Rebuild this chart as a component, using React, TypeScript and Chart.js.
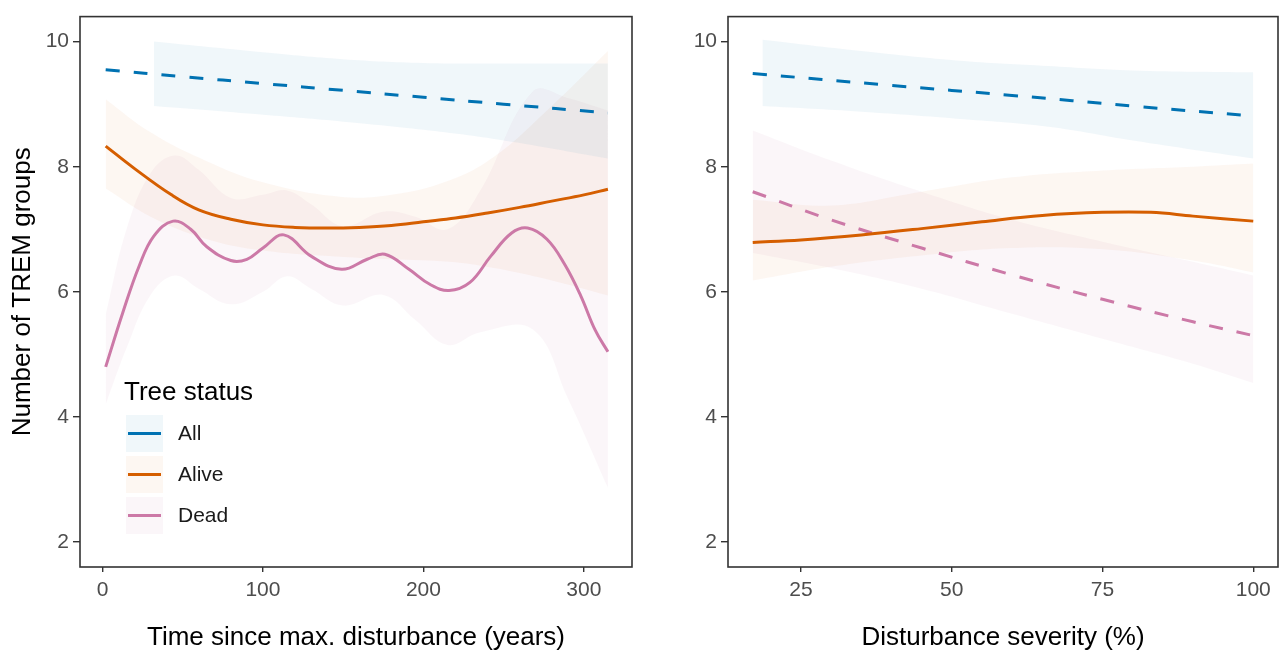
import React, { useEffect, useRef } from "react";
import { Chart, registerables } from "chart.js";

Chart.register(...registerables);

const FONT = "'Liberation Sans', Arial, sans-serif";
const BLUE = "#0072B2";
const ORANGE = "#D55E00";
const PINK = "#CC79A7";
const BLUE_FILL = "rgba(0,114,178,0.06)";
const ORANGE_FILL = "rgba(213,94,0,0.05)";
const PINK_FILL = "rgba(204,121,167,0.07)";

// ---------- Left panel: time since max. disturbance ----------
const timeAllX = [2, 50, 100, 150, 200, 250, 315];
const timeAllY = [9.55, 9.44, 9.33, 9.22, 9.11, 9.0, 8.86];
const timeAllBandX = [32, 100, 150, 200, 250, 315];
const timeAllUpper = [10.0, 9.83, 9.72, 9.66, 9.65, 9.65];
const timeAllLower = [8.97, 8.83, 8.72, 8.59, 8.42, 8.13];

const timeAliveX = [2, 20, 43, 60, 80, 100, 120, 140, 160, 180, 200, 220, 240, 260, 280, 300, 315];
const timeAliveY = [8.33, 7.97, 7.55, 7.31, 7.16, 7.07, 7.03, 7.02, 7.03, 7.06, 7.12, 7.18, 7.26, 7.35, 7.45, 7.55, 7.64];
const timeAliveBandX = [2, 30, 64, 100, 148, 180, 216, 244, 277, 315];
const timeAliveUpper = [9.08, 8.55, 8.1, 7.75, 7.52, 7.55, 7.78, 8.16, 8.9, 9.85];
const timeAliveLower = [7.65, 7.2, 6.85, 6.66, 6.56, 6.52, 6.48, 6.38, 6.2, 5.94];

const timeDeadX = [2, 12.7, 23, 32, 44, 55, 65, 80, 90, 100, 113, 130, 149, 165, 176, 191, 204, 216, 229, 242, 255, 265, 277, 288, 298, 307, 315];
const timeDeadY = [4.8, 5.67, 6.42, 6.89, 7.13, 7.0, 6.72, 6.5, 6.52, 6.7, 6.91, 6.57, 6.36, 6.52, 6.6, 6.36, 6.12, 6.02, 6.15, 6.57, 6.94, 7.02, 6.84, 6.44, 5.94, 5.39, 5.04];
const timeDeadBandX = [2, 15, 30, 45, 60, 80, 100, 115, 130, 150, 175, 195, 215, 235, 268, 290, 315];
const timeDeadUpper = [5.63, 7.0, 7.9, 8.18, 7.95, 7.5, 7.55, 7.62, 7.4, 7.05, 7.28, 7.2, 7.0, 7.6, 9.2, 9.1, 8.9];
const timeDeadLower = [4.2, 5.1, 5.95, 6.26, 6.05, 5.8, 6.0, 6.25, 6.05, 5.78, 5.95, 5.55, 5.15, 5.35, 5.4, 4.3, 2.87];

// ---------- Right panel: disturbance severity ----------
const sevAllX = [17, 40, 60, 80, 100];
const sevAllY = [9.49, 9.3, 9.14, 8.97, 8.81];
const sevAllBandX = [18.6, 35, 52, 66, 80, 100];
const sevAllUpper = [10.03, 9.85, 9.69, 9.61, 9.54, 9.51];
const sevAllLower = [8.97, 8.88, 8.76, 8.64, 8.42, 8.13];

const sevAliveX = [17, 25, 35, 45, 55, 65, 75, 83, 90, 100];
const sevAliveY = [6.79, 6.83, 6.91, 7.01, 7.12, 7.22, 7.27, 7.27, 7.21, 7.13];
const sevAliveBandX = [17, 30, 45, 60, 75, 90, 100];
const sevAliveUpper = [7.47, 7.38, 7.6, 7.83, 7.94, 8.0, 8.05];
const sevAliveLower = [6.18, 6.4, 6.58, 6.7, 6.68, 6.5, 6.31];

const sevDeadX = [17, 30, 45, 60, 75, 90, 100];
const sevDeadY = [7.6, 7.15, 6.7, 6.27, 5.88, 5.52, 5.3];
const sevDeadBandX = [17, 30, 45, 60, 75, 90, 100];
const sevDeadUpper = [8.58, 8.1, 7.6, 7.15, 6.8, 6.48, 6.26];
const sevDeadLower = [6.62, 6.38, 6.05, 5.65, 5.25, 4.85, 4.54];

const yTicksMin = 1.6;
const yTicksMax = 10.4;

const legendItems = [
  { label: "All", color: BLUE, fill: BLUE_FILL },
  { label: "Alive", color: ORANGE, fill: ORANGE_FILL },
  { label: "Dead", color: PINK, fill: PINK_FILL },
];

const pts = (xs: number[], ys: number[]) => xs.map((x, i) => ({ x, y: ys[i] }));

function lineDs(xs: number[], ys: number[], color: string, dashed: boolean) {
  return {
    data: pts(xs, ys),
    borderColor: color,
    borderWidth: 3,
    borderDash: dashed ? [14, 14] : [],
    borderCapStyle: "butt",
    pointRadius: 0,
    tension: 0.4,
    fill: false,
    order: 0,
  };
}

function bandDs(xs: number[], upper: number[], lower: number[], fill: string) {
  return [
    {
      data: pts(xs, upper),
      borderWidth: 0,
      borderColor: "rgba(0,0,0,0)",
      backgroundColor: fill,
      pointRadius: 0,
      tension: 0.4,
      fill: "+1",
      order: 1,
    },
    {
      data: pts(xs, lower),
      borderWidth: 0,
      borderColor: "rgba(0,0,0,0)",
      pointRadius: 0,
      tension: 0.4,
      fill: false,
      order: 1,
    },
  ];
}

const framePlugin = {
  id: "frame",
  afterDraw(chart: any) {
    const { ctx, chartArea } = chart;
    ctx.save();
    ctx.strokeStyle = "#333333";
    ctx.lineWidth = 1.6;
    ctx.strokeRect(chartArea.left, chartArea.top, chartArea.right - chartArea.left, chartArea.bottom - chartArea.top);
    ctx.restore();
  },
};

const legendPlugin = {
  id: "treeLegend",
  afterDraw(chart: any) {
    const ctx = chart.ctx;
    ctx.save();
    ctx.fillStyle = "#000";
    ctx.font = `26px ${FONT}`;
    ctx.textBaseline = "alphabetic";
    ctx.textAlign = "left";
    ctx.fillText("Tree status", 124, 400);
    legendItems.forEach((it, i) => {
      const y0 = 415 + i * 41;
      ctx.fillStyle = it.fill;
      ctx.fillRect(126, y0, 37, 37);
      ctx.strokeStyle = it.color;
      ctx.lineWidth = 3;
      ctx.beginPath();
      ctx.moveTo(128, y0 + 18.5);
      ctx.lineTo(161, y0 + 18.5);
      ctx.stroke();
      ctx.fillStyle = "#1a1a1a";
      ctx.font = `21px ${FONT}`;
      ctx.textBaseline = "middle";
      ctx.fillText(it.label, 178, y0 + 19);
    });
    ctx.restore();
  },
};

function makeOptions(opts: {
  xMin: number;
  xMax: number;
  xStep: number;
  xTitle: string;
  yTitle: string | null;
  yWidth: number;
  padRight: number;
}) {
  const tickFont = { family: FONT, size: 21 };
  return {
    responsive: false,
    animation: false,
    events: [],
    layout: { padding: { top: 12, right: opts.padRight, left: 0, bottom: 0 } },
    plugins: { legend: { display: false }, tooltip: { enabled: false } },
    scales: {
      x: {
        type: "linear",
        min: opts.xMin,
        max: opts.xMax,
        ticks: {
          stepSize: opts.xStep,
          includeBounds: false,
          color: "#4d4d4d",
          font: tickFont,
          padding: 6,
          maxRotation: 0,
        },
        grid: { display: true, drawOnChartArea: false, drawTicks: true, tickLength: 5, color: "#333333", lineWidth: 1.4 },
        border: { display: false },
        title: {
          display: true,
          text: opts.xTitle,
          color: "#000",
          font: { family: FONT, size: 26, lineHeight: 1 },
          padding: { top: 0, bottom: 1 },
        },
        afterFit: (s: any) => {
          s.height = 85;
        },
      },
      y: {
        type: "linear",
        min: yTicksMin,
        max: yTicksMax,
        ticks: {
          stepSize: 2,
          includeBounds: false,
          color: "#4d4d4d",
          font: tickFont,
          padding: 4,
        },
        grid: { display: true, drawOnChartArea: false, drawTicks: true, tickLength: 7, color: "#333333", lineWidth: 1.4 },
        border: { display: false },
        title: {
          display: !!opts.yTitle,
          text: opts.yTitle || "",
          color: "#000",
          font: { family: FONT, size: 26, lineHeight: 1 },
          padding: { top: 10, bottom: 0 },
        },
        afterFit: (s: any) => {
          s.width = opts.yWidth;
        },
      },
    },
  };
}

function Panel(props: { left: number; width: number; build: () => any }) {
  const ref = useRef<HTMLCanvasElement | null>(null);
  useEffect(() => {
    if (!ref.current) return;
    const chart = new Chart(ref.current, props.build());
    return () => chart.destroy();
  }, []);
  return (
    <canvas
      ref={ref}
      width={props.width}
      height={652}
      style={{ position: "absolute", left: props.left, top: 0, width: props.width, height: 652 }}
    />
  );
}

function buildLeft() {
  return {
    type: "line",
    data: {
      datasets: [
        lineDs(timeAllX, timeAllY, BLUE, true),
        lineDs(timeAliveX, timeAliveY, ORANGE, false),
        lineDs(timeDeadX, timeDeadY, PINK, false),
        ...bandDs(timeAllBandX, timeAllUpper, timeAllLower, BLUE_FILL),
        ...bandDs(timeAliveBandX, timeAliveUpper, timeAliveLower, ORANGE_FILL),
        ...bandDs(timeDeadBandX, timeDeadUpper, timeDeadLower, PINK_FILL),
      ],
    },
    options: makeOptions({
      xMin: -14,
      xMax: 330,
      xStep: 100,
      xTitle: "Time since max. disturbance (years)",
      yTitle: "Number of TREM groups",
      yWidth: 80,
      padRight: 8,
    }),
    plugins: [framePlugin, legendPlugin],
  };
}

function buildRight() {
  return {
    type: "line",
    data: {
      datasets: [
        lineDs(sevAllX, sevAllY, BLUE, true),
        lineDs(sevAliveX, sevAliveY, ORANGE, false),
        lineDs(sevDeadX, sevDeadY, PINK, true),
        ...bandDs(sevAllBandX, sevAllUpper, sevAllLower, BLUE_FILL),
        ...bandDs(sevAliveBandX, sevAliveUpper, sevAliveLower, ORANGE_FILL),
        ...bandDs(sevDeadBandX, sevDeadUpper, sevDeadLower, PINK_FILL),
      ],
    },
    options: makeOptions({
      xMin: 12.9,
      xMax: 104.1,
      xStep: 25,
      xTitle: "Disturbance severity (%)",
      yTitle: null,
      yWidth: 88,
      padRight: 3,
    }),
    plugins: [framePlugin],
  };
}

export default function App() {
  return (
    <div style={{ position: "absolute", left: 0, top: 0, width: 1281, height: 652, background: "#fff" }}>
      <Panel left={0} width={640} build={buildLeft} />
      <Panel left={640} width={641} build={buildRight} />
    </div>
  );
}
